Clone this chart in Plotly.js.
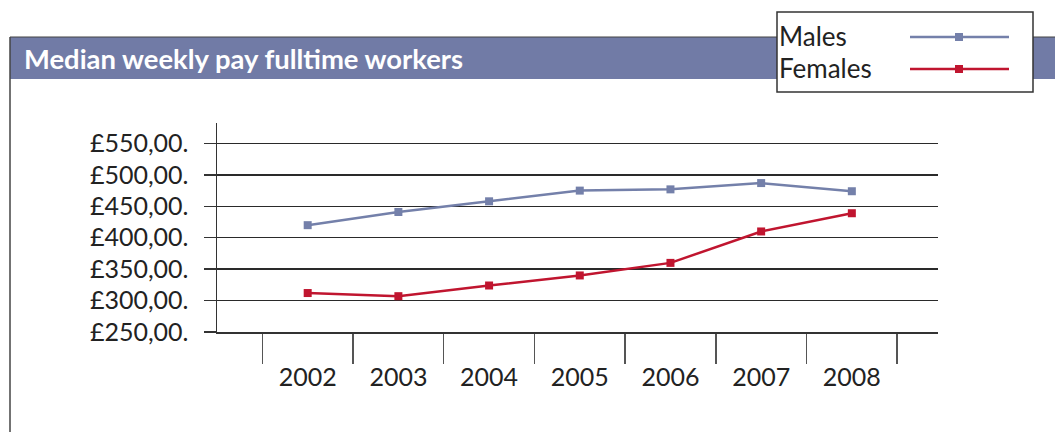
<!DOCTYPE html>
<html>
<head>
<meta charset="utf-8">
<script src="https://cdn.plot.ly/plotly-3.0.1.min.js"></script>
<style>html,body{margin:0;padding:0;background:#fff;}#chart{width:1055px;height:432px;}</style>
</head>
<body>
<div id="chart"></div>
<script>
var years = ["2002","2003","2004","2005","2006","2007","2008"];
var seriesNames = ["Males","Females"];
var males = [420, 441, 458, 475, 477, 487, 474];
var females = [312, 307, 324, 340, 360, 410, 439];
var yTickVals = [250, 300, 350, 400, 450, 500, 550];
var yTickLabels = ["£250,00.","£300,00.","£350,00.","£400,00.","£450,00.","£500,00.","£550,00."];
var chartTitle = "Median weekly pay fulltime workers";

var W = 1055, H = 432;
var L = 217, R = 938, T = 123, B = 332;
function px(x){ return (x - L) / (R - L); }
function py(y){ return (B - y) / (B - T); }

var maleColor = "#7480aa", femaleColor = "#c0152f";
var font = "Lato, 'Open Sans', sans-serif";

var traces = [
  {x: years, y: males, name: seriesNames[0], type: "scatter", mode: "lines+markers",
   line: {color: maleColor, width: 2.5}, marker: {symbol: "square", size: 8, color: maleColor}},
  {x: years, y: females, name: seriesNames[1], type: "scatter", mode: "lines+markers",
   line: {color: femaleColor, width: 2.5}, marker: {symbol: "square", size: 8, color: femaleColor}}
];

var shapes = [
  {type:"rect", xref:"paper", yref:"paper", x0:px(10), x1:px(1056), y0:py(79), y1:py(37), fillcolor:"#717ba6", line:{width:0}, layer:"below"},
  {type:"line", xref:"paper", yref:"paper", x0:px(10), x1:px(1056), y0:py(37), y1:py(37), line:{color:"#444", width:1.2}, layer:"below"},
  {type:"line", xref:"paper", yref:"paper", x0:px(10), x1:px(10), y0:py(37), y1:py(433), line:{color:"#444", width:1.5}, layer:"below"},
  {type:"rect", xref:"paper", yref:"paper", x0:px(777), x1:px(1033), y0:py(92), y1:py(12), fillcolor:"#ffffff", line:{color:"#333", width:1.5}, layer:"below"},
  {type:"line", xref:"paper", yref:"paper", x0:px(910), x1:px(1009), y0:py(37), y1:py(37), line:{color:maleColor, width:2.5}, layer:"below"},
  {type:"rect", xref:"paper", yref:"paper", x0:px(955), x1:px(963), y0:py(41), y1:py(33), fillcolor:maleColor, line:{width:0}, layer:"below"},
  {type:"line", xref:"paper", yref:"paper", x0:px(910), x1:px(1009), y0:py(69), y1:py(69), line:{color:femaleColor, width:2.5}, layer:"below"},
  {type:"rect", xref:"paper", yref:"paper", x0:px(955), x1:px(963), y0:py(73), y1:py(65), fillcolor:femaleColor, line:{width:0}, layer:"below"}
];

var annotations = [
  {xref:"paper", yref:"paper", x:px(22), y:py(58), xanchor:"left", yanchor:"middle", showarrow:false,
   text:"<b>" + chartTitle + "</b>", font:{family:font, size:27.4, color:"#ffffff"}},
  {xref:"paper", yref:"paper", x:px(777), y:py(36), xanchor:"left", yanchor:"middle", showarrow:false,
   text:seriesNames[0], font:{family:font, size:26, color:"#222"}},
  {xref:"paper", yref:"paper", x:px(777), y:py(68), xanchor:"left", yanchor:"middle", showarrow:false,
   text:seriesNames[1], font:{family:font, size:26, color:"#222"}}
];

var layout = {
  width: W, height: H,
  margin: {l: L, r: W - R, t: T, b: H - B, pad: 0},
  paper_bgcolor: "#fff", plot_bgcolor: "#fff",
  showlegend: false,
  font: {family: font, color: "#222"},
  xaxis: {
    type: "category", range: [-1, 6.95], tickson: "boundaries",
    ticks: "outside", ticklen: 30, tickwidth: 1.5, tickcolor: "#555",
    ticklabelstandoff: 22,
    showgrid: false, showline: true, linecolor: "#333", linewidth: 1.5,
    tickfont: {family: font, size: 25, color: "#222"}, zeroline: false, fixedrange: true
  },
  yaxis: {
    range: [250, 582.6], tickvals: yTickVals, ticktext: yTickLabels,
    ticks: "outside", ticklen: 12, tickwidth: 1.5, tickcolor: "#333",
    ticklabelstandoff: 10,
    showgrid: true, gridcolor: "#2a2a2a", gridwidth: 1.5,
    showline: true, linecolor: "#333", linewidth: 1.5,
    tickfont: {family: font, size: 25, color: "#222"}, zeroline: false, fixedrange: true
  },
  shapes: shapes,
  annotations: annotations
};

Plotly.newPlot("chart", traces, layout, {displayModeBar: false, staticPlot: true});
</script>
</body>
</html>
